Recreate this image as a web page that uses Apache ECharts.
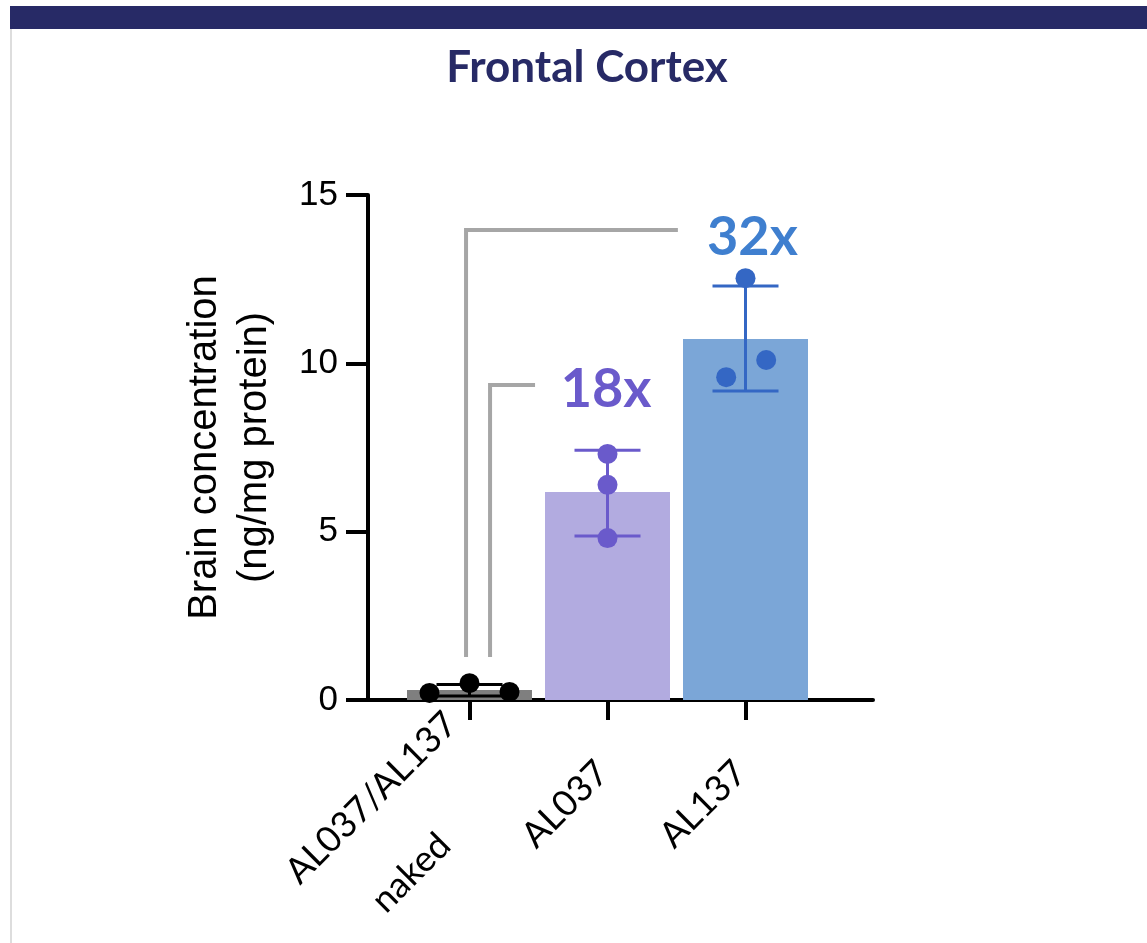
<!DOCTYPE html>
<html><head><meta charset="utf-8">
<script src="https://cdn.jsdelivr.net/npm/echarts@6/dist/echarts.min.js"></script>
<style>html,body{margin:0;padding:0;background:#fff;}#chart{width:1147px;height:943px;}</style>
</head><body><div id="chart"></div>
<script>
// ---- data ----
const titleText = 'Frontal Cortex';
const yAxisName = 'Brain concentration\n(ng/mg protein)';
const categories = ['AL037/AL137\nnaked', 'AL037', 'AL137'];
const barMeans = [0.30, 6.18, 10.72];
const pointsNaked = [0.21, 0.50, 0.24];
const pointsAL037 = [7.31, 6.39, 4.81];
const pointsAL137 = [12.53, 10.10, 9.59];
const jitterNaked = [-0.29, 0, 0.29];
const jitterAL037 = [0, 0, 0];
const jitterAL137 = [0, 0.15, -0.14];
const errLow = [0.12, 4.87, 9.18];
const errHigh = [0.46, 7.42, 12.30];
const yTicks = [0, 5, 10, 15];
const foldLabels = ['18x', '32x'];
const foldLabelAt = [[0.99, 9.21], [2.05, 13.75]];
const bracketBig = [[-0.025, 1.28], [-0.025, 13.96], [1.51, 13.96]];
const bracketSmall = [[0.149, 1.28], [0.149, 9.36], [0.475, 9.36]];

// ---- styles ----
const barColors = ['#7f7f7f', '#b2abe0', '#7ba6d7'];
const dotColors = ['#000000', '#6a5acb', '#3467c4'];
const foldColors = ['#6a5acb', '#3f7fcf'];
const navy = '#272a66';

const chart = echarts.init(document.getElementById('chart'), null, {renderer: 'canvas'});

const allPoints = [pointsNaked, pointsAL037, pointsAL137];
const allJitter = [jitterNaked, jitterAL037, jitterAL137];
const scatterSeries = allPoints.map((pts, i) => ({
  type: 'scatter', xAxisIndex: 0, yAxisIndex: 0, z: 5,
  symbol: 'circle', symbolSize: 20,
  itemStyle: {color: dotColors[i], opacity: 1},
  data: pts.map((v, k) => [i + allJitter[i][k], v])
}));

const catData = categories.map((c, i) => i === 0
  ? {value: c, textStyle: {padding: [0, -25, 21, 0]}}
  : {value: c});

const option = {
  animation: false,
  backgroundColor: '#ffffff',
  graphic: [
    {type: 'rect', left: 10, top: 6, shape: {width: 1137, height: 23}, style: {fill: navy}, z: 0},
    {type: 'rect', left: 10, top: 29, shape: {width: 2, height: 914}, style: {fill: '#dddddd'}, z: 0},
    {type: 'text', x: 587, y: 68, style: {text: titleText, fill: navy, font: 'bold 44px Lato', textAlign: 'center', textVerticalAlign: 'middle'}}
  ],
  grid: [
    {left: 368, right: 274, top: 195, bottom: 243, containLabel: false, outerBoundsMode: 'none'},
    {left: 400.5, width: 414, top: 195, bottom: 243, containLabel: false, outerBoundsMode: 'none'}
  ],
  xAxis: [
    {gridIndex: 0, type: 'value', min: -0.7355, max: 2.9239,
     axisLine: {show: true, onZero: false, lineStyle: {color: '#000', width: 4}},
     axisTick: {show: false}, axisLabel: {show: false}, splitLine: {show: false}},
    {gridIndex: 1, type: 'category', data: catData,
     axisLine: {show: false},
     axisTick: {show: true, alignWithLabel: true, length: 20, lineStyle: {color: '#000', width: 4}},
     axisLabel: {
       rotate: 45, margin: 72, interval: 0, padding: [0, 0, 14, 0],
       formatter: function (v) {
         const parts = v.split('\n');
         return parts.map((s, k) => (k === 0 ? '{c|' : '{d|') + s + '}').join('\n');
       },
       rich: {
         c: {align: 'center', fontFamily: 'Lato', fontSize: 36, color: '#000', lineHeight: 81},
         d: {align: 'center', fontFamily: 'Lato', fontSize: 36, color: '#000', lineHeight: 81, padding: [0, 50, 0, 0]}
       }
     },
     splitLine: {show: false}}
  ],
  yAxis: [
    {gridIndex: 0, type: 'value', min: 0, max: 15, interval: 5,
     name: yAxisName, nameLocation: 'middle', nameGap: 88, nameRotate: 90,
     nameTextStyle: {fontFamily: 'Liberation Sans', fontSize: 40, lineHeight: 50, color: '#000'},
     axisLine: {show: true, onZero: false, lineStyle: {color: '#000', width: 4}},
     axisTick: {show: true, length: 22, lineStyle: {color: '#000', width: 4}},
     axisLabel: {fontFamily: 'Liberation Sans', fontSize: 35, color: '#000', margin: 30,
       formatter: function (v) { return yTicks.indexOf(v) >= 0 ? String(v) : ''; }},
     splitLine: {show: false}},
    {gridIndex: 1, type: 'value', min: 0, max: 15, interval: 5, show: false}
  ],
  series: [
    {type: 'bar', xAxisIndex: 1, yAxisIndex: 1, barWidth: 125, z: 2,
     data: barMeans.map((v, i) => ({value: v, itemStyle: {color: barColors[i]}}))},
    {type: 'line', xAxisIndex: 0, yAxisIndex: 0, data: bracketBig, symbol: 'none', z: 3,
     lineStyle: {color: '#a6a6a6', width: 4, cap: 'butt', join: 'miter'}},
    {type: 'line', xAxisIndex: 0, yAxisIndex: 0, data: bracketSmall, symbol: 'none', z: 3,
     lineStyle: {color: '#a6a6a6', width: 4, cap: 'butt', join: 'miter'}},
    {type: 'custom', xAxisIndex: 1, yAxisIndex: 1, z: 4,
     data: errLow.map((lo, i) => [i, lo, errHigh[i]]),
     renderItem: function (params, api) {
       const i = api.value(0);
       const lo = api.coord([i, api.value(1)]);
       const hi = api.coord([i, api.value(2)]);
       const hw = 33;
       const st = {stroke: dotColors[i], lineWidth: 3};
       return {type: 'group', children: [
         {type: 'line', shape: {x1: lo[0], y1: lo[1], x2: hi[0], y2: hi[1]}, style: st},
         {type: 'line', shape: {x1: lo[0] - hw, y1: lo[1], x2: lo[0] + hw, y2: lo[1]}, style: st},
         {type: 'line', shape: {x1: hi[0] - hw, y1: hi[1], x2: hi[0] + hw, y2: hi[1]}, style: st}
       ]};
     }},
    ...scatterSeries,
    {type: 'scatter', xAxisIndex: 0, yAxisIndex: 0, symbolSize: 1, z: 6,
     itemStyle: {color: 'rgba(0,0,0,0)', opacity: 1},
     data: foldLabels.map((t, i) => ({value: foldLabelAt[i], name: t,
       label: {show: true, position: 'inside', formatter: t, color: foldColors[i], opacity: 1,
         fontFamily: 'Lato', fontWeight: 'bold', fontSize: 54}}))}
  ]
};
chart.setOption(option);
</script></body></html>
